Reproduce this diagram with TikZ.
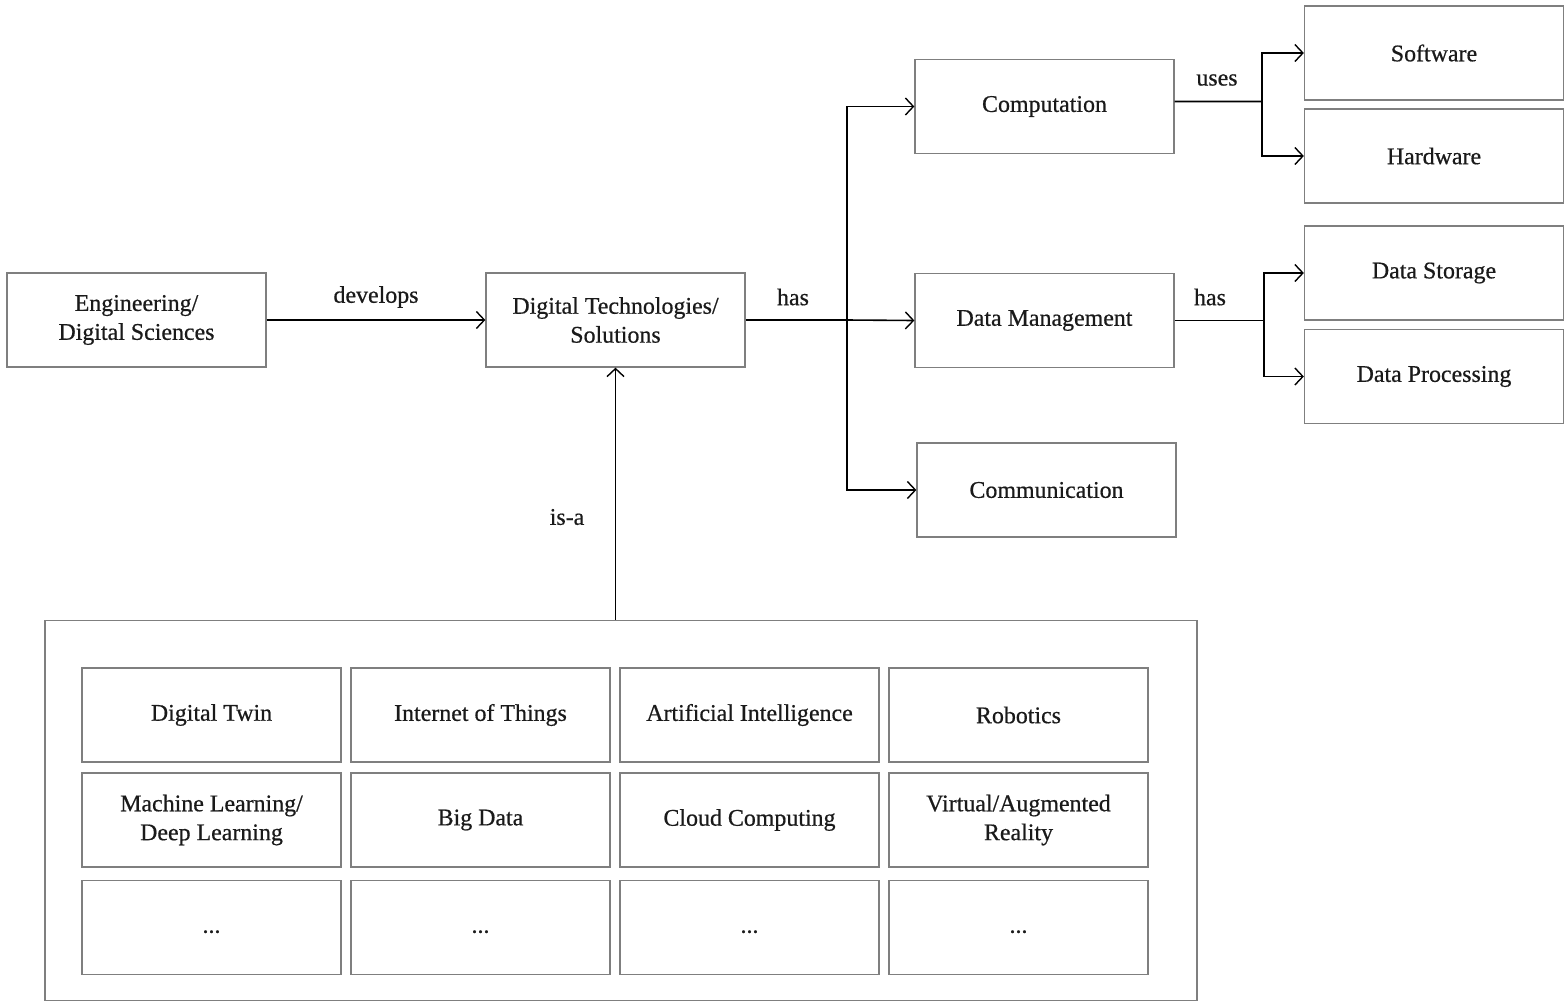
\documentclass[tikz,border=0pt]{standalone}
\usepackage{fontspec}
\setmainfont{Liberation Serif}[BoldFont=Liberation Serif, BoldFeatures={FakeBold=0.6}]
\usetikzlibrary{arrows.meta}
\definecolor{boxline}{HTML}{7F7F7F}
\definecolor{ink}{HTML}{1A1A1A}
\newcommand{\moredots}{\vphantom{Ag}...}
\tikzset{
  box/.style={draw=boxline, line width=1.3bp, minimum width=259bp, minimum height=94bp,
              inner sep=2bp, align=center, text=ink, font=\fontsize{24}{29}\selectfont\bfseries},
  lbl/.style={text=ink, font=\fontsize{24}{29}\selectfont\bfseries, inner sep=0pt},
  conn/.style={draw=black, line width=1.6bp},
  arr/.style={conn, -{Straight Barb[length=8bp, width=17bp, line width=1.4bp]}}
}
\begin{document}
\begin{tikzpicture}[x=1bp, y=-1bp]
  \useasboundingbox (0,0) rectangle (1564,1003);

  % main chain
  \node[box] (eng) at (136.5,320) {Engineering/\\Digital Sciences};
  \node[box] (dt)  at (615.5,320) {Digital Technologies/\\Solutions};

  % aspects
  \node[box] (comp) at (1044.5,106.5) {Computation};
  \node[box] (dm)   at (1044.5,320.5) {Data Management};
  \node[box] (comm) at (1046.5,490)   {Communication};

  % sub-aspects
  \node[box] (sw)  at (1434,53)    {Software};
  \node[box] (hw)  at (1434,156)   {Hardware};
  \node[box] (ds)  at (1434,273)   {Data Storage};
  \node[box] (dp)  at (1434,376.5) {Data Processing};

  % container of technologies
  \node[draw=boxline, line width=1.3bp, minimum width=1152bp, minimum height=380bp,
        inner sep=0pt] (cont) at (621,810.5) {};

  \node[box] (t11) at (211.5,715) {Digital Twin};
  \node[box] (t12) at (480.5,715) {Internet of Things};
  \node[box] (t13) at (749.5,715) {Artificial Intelligence};
  \node[box] (t14) at (1018.5,715) {Robotics};
  \node[box] (t21) at (211.5,820) {Machine Learning/\\Deep Learning};
  \node[box] (t22) at (480.5,820) {Big Data};
  \node[box] (t23) at (749.5,820) {Cloud Computing};
  \node[box] (t24) at (1018.5,820) {Virtual/Augmented\\Reality};
  \node[box] (t31) at (211.5,927.5) {\moredots};
  \node[box] (t32) at (480.5,927.5) {\moredots};
  \node[box] (t33) at (749.5,927.5) {\moredots};
  \node[box] (t34) at (1018.5,927.5) {\moredots};

  % junction points
  \coordinate (j1) at (847,320);
  \coordinate (j2) at (1262,101.5);
  \coordinate (j3) at (1264,320.5);

  % connectors
  \draw[arr] (eng.east) -- (dt.west);
  \draw[conn] (dt.east) -- (j1);
  \draw[arr] (j1) |- (comp.west);
  \draw[arr] (j1) -- (dm.west);
  \draw[arr] (j1) |- (comm.west);

  \draw[conn] ([yshift=5bp]comp.east) -- (j2);
  \draw[arr] (j2) |- (sw.west);
  \draw[arr] (j2) |- (hw.west);

  \draw[conn] (dm.east) -- (j3);
  \draw[arr] (j3) |- (ds.west);
  \draw[arr] (j3) |- (dp.west);

  \draw[arr] (dt.south |- cont.north) -- (dt.south);

  % connector labels
  \node[lbl] (l1) at (376,297) {develops};
  \node[lbl] (l2) at (793,297) {has};
  \node[lbl] (l3) at (1217,80) {uses};
  \node[lbl] (l4) at (1210,297) {has};
  \node[lbl] (l5) at (567,517) {is-a};
\end{tikzpicture}
\end{document}
